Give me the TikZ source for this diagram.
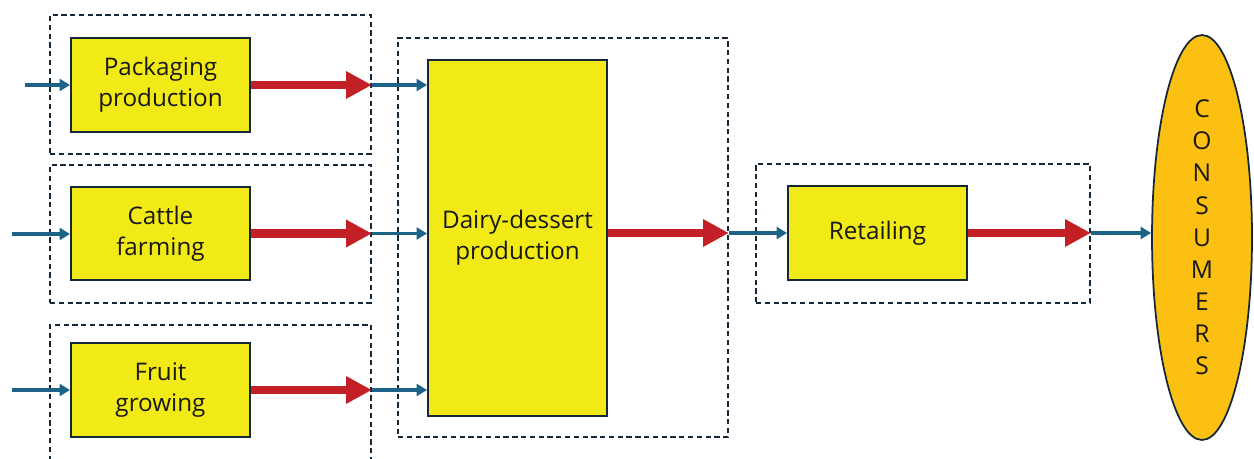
\documentclass[tikz,border=0pt]{standalone}
\usepackage{fontspec}
\setmainfont{Open Sans}
\usetikzlibrary{arrows.meta,shapes.geometric}
\definecolor{boxyellow}{HTML}{F2EA17}
\definecolor{consyellow}{HTML}{FBC012}
\definecolor{flowred}{HTML}{C21F27}
\definecolor{flowblue}{HTML}{1D6387}
\definecolor{edgedark}{HTML}{15283A}
\tikzset{
  procbox/.style={draw=edgedark, line width=1.1pt, fill=boxyellow, align=center,
    font=\fontsize{13.8}{17.5}\selectfont, text=black!90, inner sep=0pt},
  stagebox/.style={draw=edgedark, line width=1.1pt, dash pattern=on 3pt off 2pt, inner sep=0pt},
  redflow/.style={draw=flowred, line width=4.6pt, -{Triangle[length=14.7pt,width=14.7pt]}},
  blueflow/.style={draw=flowblue, line width=2pt, -{Triangle[length=6pt,width=6.8pt]}},
}
\begin{document}
\begin{tikzpicture}[x=0.02cm,y=-0.02cm]
\useasboundingbox (0,0) rectangle (1254,459);

% stage frames
\node[stagebox, minimum width=6.42cm, minimum height=2.78cm] (sPack) at (210.5,84.5) {};
\node[stagebox, minimum width=6.42cm, minimum height=2.76cm] (sCattle) at (210.5,234) {};
\node[stagebox, minimum width=6.42cm, minimum height=3cm] (sFruit) at (210.5,400) {};
\node[stagebox, minimum width=6.6cm, minimum height=7.98cm] (sDairy) at (563,237.5) {};
\node[stagebox, minimum width=6.68cm, minimum height=2.78cm] (sRetail) at (923,233.5) {};

% processes
\node[procbox, minimum width=3.58cm, minimum height=1.88cm] (pack) at (160.5,85) {Packaging\\production};
\node[procbox, minimum width=3.58cm, minimum height=1.86cm] (cattle) at (160.5,233.5) {Cattle\\farming};
\node[procbox, minimum width=3.58cm, minimum height=1.88cm] (fruit) at (160.5,390) {Fruit\\growing};
\node[procbox, minimum width=3.58cm, minimum height=7.12cm] (dairy) at (517.5,238) {Dairy-dessert\\production};
\node[procbox, minimum width=3.58cm, minimum height=1.88cm] (retail) at (877.5,233) {Retailing};
\node[ellipse, draw=edgedark, line width=1pt, fill=consyellow, minimum width=2cm, minimum height=8.1cm,
  inner sep=0pt, align=center, text=black!90, font=\fontsize{14}{18.3}\selectfont] (cons) at (1202,237.5)
  {C\\O\\N\\S\\U\\M\\E\\R\\S};

% external inputs
\coordinate (inPack) at (25,85);
\coordinate (inCattle) at (12,234);
\coordinate (inFruit) at (12,390);
\draw[blueflow] (inPack) -- (pack.west |- inPack);
\draw[blueflow] (inCattle) -- (cattle.west |- inCattle);
\draw[blueflow] (inFruit) -- (fruit.west |- inFruit);

% stage outputs
\draw[redflow] (pack.east) -- (sPack.east |- pack.east);
\draw[redflow] (cattle.east) -- (sCattle.east |- cattle.east);
\draw[redflow] (fruit.east) -- (sFruit.east |- fruit.east);
\draw[blueflow] (sPack.east |- pack.east) -- (dairy.west |- pack.east);
\draw[blueflow] (sCattle.east |- cattle.east) -- (dairy.west |- cattle.east);
\draw[blueflow] (sFruit.east |- fruit.east) -- (dairy.west |- fruit.east);

\draw[redflow] (dairy.east |- retail.west) -- (sDairy.east |- retail.west);
\draw[blueflow] (sDairy.east |- retail.west) -- (retail.west);
\draw[redflow] (retail.east) -- (sRetail.east |- retail.east);
\draw[blueflow] (sRetail.east |- retail.east) -- (cons.west |- retail.east);
\end{tikzpicture}
\end{document}
